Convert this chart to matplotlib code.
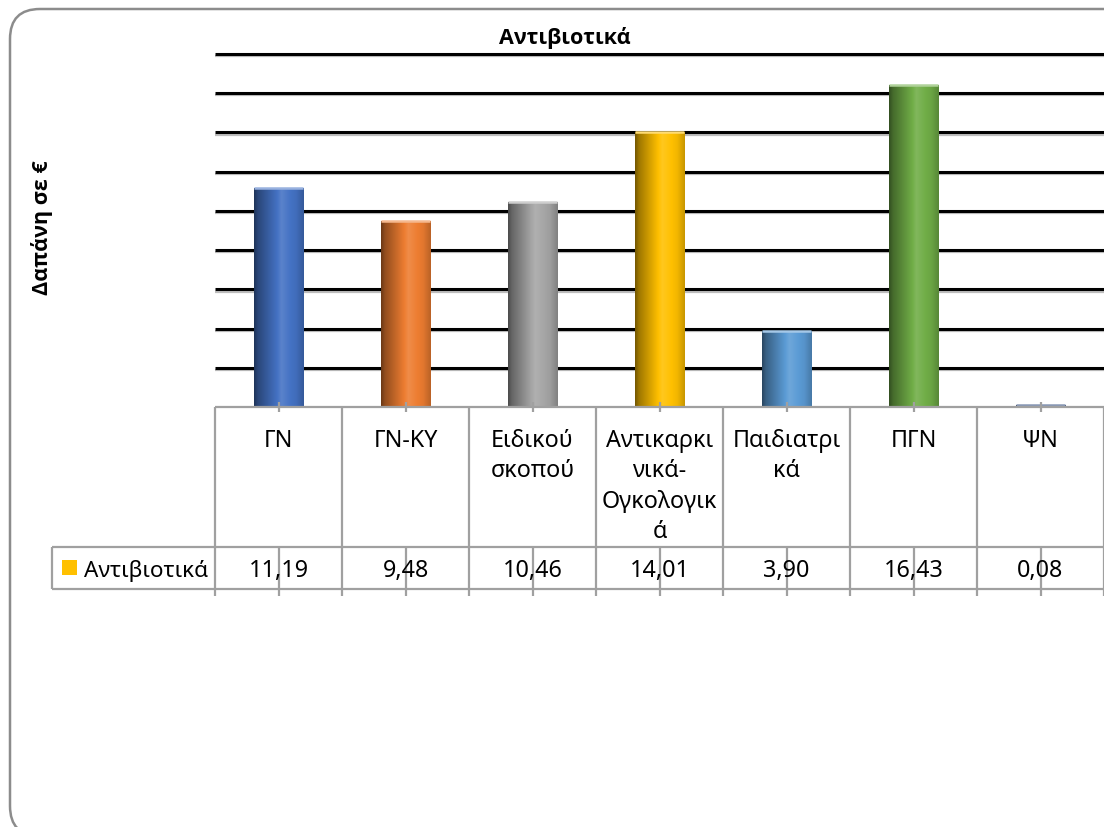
import matplotlib
matplotlib.use("Agg")
import matplotlib.pyplot as plt
import matplotlib.transforms as mtransforms
from matplotlib.patches import FancyBboxPatch, Rectangle
from matplotlib.colors import to_rgb
import numpy as np

# ---- data -------------------------------------------------------------
categories = ["ΓΝ", "ΓΝ-ΚΥ", "Ειδικού\nσκοπού", "Αντικαρκι\nνικά-\nΟγκολογικ\nά",
              "Παιδιατρι\nκά", "ΠΓΝ", "ΨΝ"]
values = [11.19, 9.48, 10.46, 14.01, 3.90, 16.43, 0.08]
series_name = "Αντιβιοτικά"
title = "Αντιβιοτικά"
ylabel = "Δαπάνη σε €"
y_max = 18
y_step = 2

bar_colors = ["#4472C4", "#ED7D31", "#A5A5A5", "#FFC000", "#5B9BD5", "#70AD47", "#264478"]
legend_color = "#FFC000"

# ---- figure geometry (pixels) ----------------------------------------
W, H = 1104, 828
FONT = "Noto Sans"
BOLD_FONT = ["Open Sans", "DejaVu Sans"]
TXT = 16.8
GRID_GRAY = "#A0A0A0"

fig = plt.figure(figsize=(W / 100, H / 100), dpi=100)
fig.patch.set_facecolor("white")


def fy(py):
    return 1 - py / H


def fx(px):
    return px / W


# rounded chart-area border
border = FancyBboxPatch((0.10, -0.09), 11.25, 8.27,
                        boxstyle="round,pad=0,rounding_size=0.3",
                        transform=fig.dpi_scale_trans, facecolor="none",
                        edgecolor="#8C8C8C", linewidth=1.8, clip_on=False)
fig.add_artist(border)

ax_left, ax_right, ax_top, ax_bottom = 215, 1104, 55, 408
ax = fig.add_axes([fx(ax_left), fy(ax_bottom), (ax_right - ax_left) / W,
                   (ax_bottom - ax_top) / H])
ax.patch.set_visible(False)
x = np.arange(len(categories))
ax.set_xlim(-0.5, len(categories) - 0.5)
ax.set_ylim(0, y_max)
for s in ax.spines.values():
    s.set_visible(False)
ax.set_xticks([])
ax.set_yticks([])

# horizontal gridlines: black line with a soft grey shadow below
shadow_tr = mtransforms.offset_copy(ax.get_yaxis_transform(), fig=fig, x=0, y=-2.2, units="dots")
for gy in np.arange(y_step, y_max + 0.001, y_step):
    ax.plot([0, 1], [gy, gy], transform=shadow_tr, color="#BDBDBD", lw=1.6,
            zorder=1, clip_on=False, solid_capstyle="butt")
    ax.plot([0, 1], [gy, gy], transform=ax.get_yaxis_transform(), color="black",
            lw=2.2, zorder=1.5, clip_on=False, solid_capstyle="butt")

# cylinder-style bars with horizontal shading
bars = ax.bar(x, values, width=0.39, color=bar_colors, zorder=3, linewidth=0)
t = np.linspace(0, 1, 200)
shade = np.interp(t, [0, 0.08, 0.55, 0.85, 1.0], [0.45, 0.62, 1.08, 0.95, 0.78])
for bar, c in zip(bars, bar_colors):
    base = np.array(to_rgb(c))
    rows = []
    for f in shade:
        if f <= 1:
            rows.append(base * f)
        else:
            rows.append(base + (1 - base) * (f - 1) * 1.5)
    img = np.clip(np.array(rows), 0, 1)[np.newaxis, :, :]
    x0, w, h = bar.get_x(), bar.get_width(), bar.get_height()
    im = ax.imshow(img, extent=[x0, x0 + w, 0, h], aspect="auto", zorder=3.2,
                   interpolation="bilinear")
    im.set_clip_path(bar)
    light = base + (1 - base) * 0.45
    ax.plot([x0, x0 + w], [h, h], color=light, lw=1.8, zorder=3.4,
            solid_capstyle="butt")
ax.set_xlim(-0.5, len(categories) - 0.5)
ax.set_ylim(0, y_max)

# ---- data table under the plot ---------------------------------------
tab = mtransforms.blended_transform_factory(ax.transData, fig.transFigure)
row1_top, row1_bot, row2_bot = 408, 548, 590
line_kw = dict(color=GRID_GRAY, lw=1.6, solid_capstyle="butt", clip_on=False)
xmin, xmax = -0.5, len(categories) - 0.5

fig.add_artist(plt.Line2D([xmin, xmax], [fy(row1_top)] * 2, transform=tab, **line_kw))
for yy in (row1_bot, row2_bot):
    fig.add_artist(plt.Line2D([fx(52), 1], [fy(yy)] * 2, transform=fig.transFigure, **line_kw))
fig.add_artist(plt.Line2D([fx(52)] * 2, [fy(row1_bot), fy(row2_bot)],
                          transform=fig.transFigure, **line_kw))
for b in np.arange(xmin, xmax + 0.01, 1):
    fig.add_artist(plt.Line2D([b, b], [fy(row1_top), fy(row2_bot + 7)], transform=tab, **line_kw))
for xi in x:
    fig.add_artist(plt.Line2D([xi, xi], [fy(403), fy(413)], transform=tab, **line_kw))
    fig.add_artist(plt.Line2D([xi, xi], [fy(row1_bot), fy(row2_bot + 7)], transform=tab, **line_kw))

# category labels (wrapped into lines)
first_base, line_gap = 447, 30.5
for xi, cat in zip(x, categories):
    for k, part in enumerate(cat.split("\n")):
        fig.text(xi, fy(first_base + k * line_gap), part, transform=tab, family=FONT,
                 fontsize=TXT, ha="center", va="baseline", color="black")

# value row
for xi, v in zip(x, values):
    fig.text(xi, fy(577), f"{v:.2f}".replace(".", ","), transform=tab, family=FONT,
             fontsize=TXT, ha="center", va="baseline", color="black")

# legend key in the table
fig.add_artist(Rectangle((fx(62), fy(576)), 15 / W, 15 / H, transform=fig.transFigure,
                         facecolor=legend_color, edgecolor="none"))
fig.text(fx(84), fy(577), series_name, family=FONT, fontsize=TXT - 0.6, ha="left",
         va="baseline", color="black")

# title and axis label
fig.text(fx(565), fy(38), title, family=BOLD_FONT, fontsize=15.5, fontweight="bold",
         ha="center", va="center")
fig.text(fx(42), fy(228), ylabel, family=BOLD_FONT, fontsize=15.5, fontweight="bold",
         ha="center", va="center", rotation=90)

fig.savefig("out.png", dpi=100, facecolor="white")
